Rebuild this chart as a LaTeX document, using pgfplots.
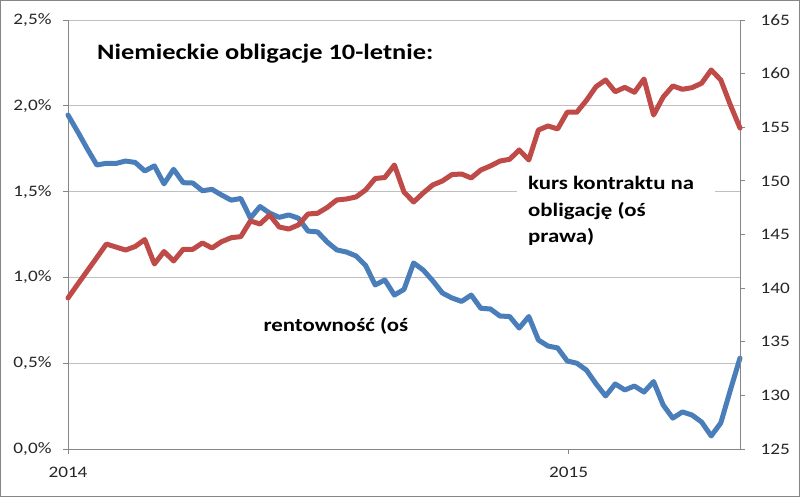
\documentclass[border=0pt]{standalone}
\usepackage{fontspec}
\setmainfont{Carlito}[FakeStretch=1.2]
\usepackage{pgfplots}
\usepackage{pgfplotstable}
\pgfplotsset{compat=1.18}
\definecolor{xblue}{HTML}{4A7EBB}
\definecolor{xred}{HTML}{BE4B48}
\definecolor{axgray}{HTML}{868686}
\definecolor{gridgray}{HTML}{BFBFBF}
\pgfplotstableread{
i y
0 1.946
1 1.85
2 1.75
3 1.655
4 1.665
5 1.664
6 1.678
7 1.67
8 1.62
9 1.65
10 1.545
11 1.63
12 1.552
13 1.55
14 1.505
15 1.513
16 1.48
17 1.45
18 1.46
19 1.346
20 1.413
21 1.375
22 1.35
23 1.364
24 1.345
25 1.27
26 1.265
27 1.206
28 1.16
29 1.148
30 1.125
31 1.07
32 0.956
33 0.985
34 0.897
35 0.93
36 1.084
37 1.043
38 0.98
39 0.909
40 0.88
41 0.86
42 0.897
43 0.82
44 0.816
45 0.775
46 0.772
47 0.705
48 0.772
49 0.635
50 0.60
51 0.589
52 0.513
53 0.50
54 0.46
55 0.38
56 0.309
57 0.379
58 0.344
59 0.367
60 0.332
61 0.393
62 0.256
63 0.18
64 0.216
65 0.198
66 0.157
67 0.076
68 0.152
69 0.344
70 0.53
}\yieldtab
\pgfplotstableread{
i y
0 139.08
1 140.35
2 141.6
3 142.85
4 144.11
5 143.83
6 143.55
7 143.88
8 144.53
9 142.25
10 143.41
11 142.53
12 143.62
13 143.62
14 144.21
15 143.74
16 144.33
17 144.70
18 144.80
19 146.26
20 145.98
21 146.82
22 145.70
23 145.51
24 145.89
25 146.91
26 146.98
27 147.52
28 148.22
29 148.31
30 148.50
31 149.15
32 150.22
33 150.31
34 151.48
35 148.96
36 148.03
37 148.87
38 149.62
39 149.99
40 150.59
41 150.64
42 150.27
43 151.01
44 151.39
45 151.85
46 152.01
47 152.88
48 151.95
49 154.74
50 155.12
51 154.84
52 156.40
53 156.40
54 157.5
55 158.78
56 159.41
57 158.31
58 158.72
59 158.26
60 159.50
61 156.14
62 157.82
63 158.85
64 158.54
65 158.69
66 159.10
67 160.34
68 159.41
69 157.07
70 154.93
}\bundtab
\begin{document}
\begin{tikzpicture}
\useasboundingbox (0pt,0pt) rectangle (800pt,497pt);
\fill[white] (0pt,0pt) rectangle (800pt,497pt);
\draw[axgray, line width=1pt] (0.5pt,0.5pt) rectangle (799.5pt,496.5pt);
\begin{axis}[
  at={(68pt,48pt)}, anchor=south west,
  scale only axis, width=672pt, height=429pt,
  xmin=0, xmax=70, ymin=0, ymax=2.5,
  axis x line*=bottom, axis y line*=left,
  axis line style={draw=axgray, line width=0.8pt, -},
  xtick={0,52.14}, xticklabels={2014,2015},
  ytick={0,0.5,1,1.5,2,2.5},
  yticklabels={0{,}0\%,0{,}5\%,1{,}0\%,1{,}5\%,2{,}0\%,2{,}5\%},
  ymajorgrids, grid style={draw=gridgray, line width=0.8pt},
  tick align=outside, major tick length=5pt,
  tick style={draw=axgray, line width=0.8pt},
  ticklabel style={font=\fontsize{16}{16}\selectfont, text=black!85},
  yticklabel style={xshift=-8pt},
  xticklabel style={yshift=-10pt},
  clip=false,
]
\addplot[xblue, line width=5pt, line join=round, line cap=round] table[x=i,y=y] {\yieldtab};
\end{axis}
\begin{axis}[
  at={(68pt,48pt)}, anchor=south west,
  scale only axis, width=672pt, height=429pt,
  xmin=0, xmax=70, ymin=125, ymax=165,
  axis x line=none, axis y line*=right,
  axis line style={draw=axgray, line width=0.8pt, -},
  ytick={125,130,135,140,145,150,155,160,165},
  yticklabels={125,130,135,140,145,150,155,160,165},
  tick align=outside, major tick length=5pt,
  tick style={draw=axgray, line width=0.8pt},
  ticklabel style={font=\fontsize{16}{16}\selectfont, text=black!85},
  yticklabel style={xshift=12pt},
  clip=false,
]
\addplot[xred, line width=5pt, line join=round, line cap=round] table[x=i,y=y] {\bundtab};
\end{axis}
\node[anchor=base west, inner sep=0pt, font=\bfseries\fontsize{22}{24}\selectfont] at (97pt,437pt) {Niemieckie obligacje 10-letnie:};
\fill[white] (517pt,247pt) rectangle (715pt,327pt);
\node[anchor=base west, inner sep=0pt, font=\bfseries\fontsize{19}{22}\selectfont] at (528pt,307pt) {kurs kontraktu na};
\node[anchor=base west, inner sep=0pt, font=\bfseries\fontsize{19}{22}\selectfont] at (528pt,280.5pt) {obligację (oś};
\node[anchor=base west, inner sep=0pt, font=\bfseries\fontsize{19}{22}\selectfont] at (528pt,254pt) {prawa)};
\node[anchor=base west, inner sep=0pt, font=\bfseries\fontsize{19}{22}\selectfont] at (263.3pt,165.3pt) {rentowność (oś};
\end{tikzpicture}
\end{document}
